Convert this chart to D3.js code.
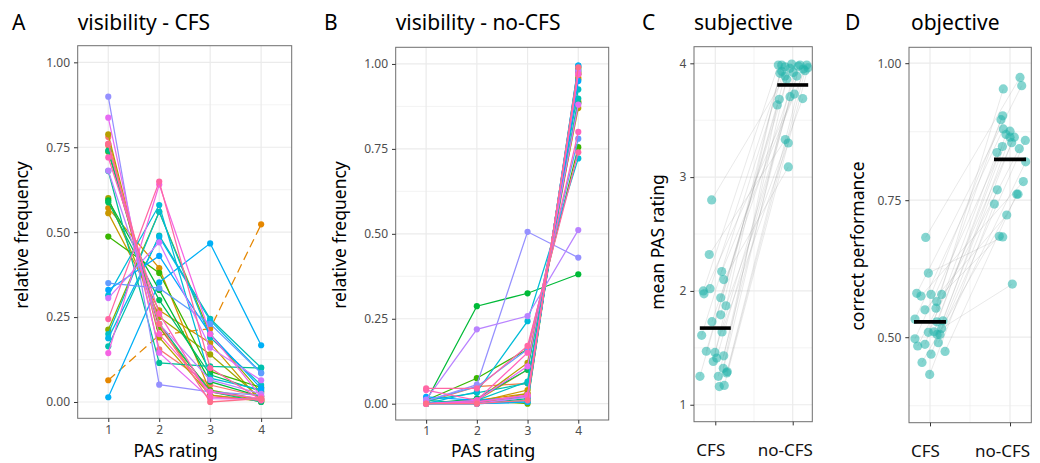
<!DOCTYPE html>
<html><head><meta charset="utf-8">
<script src="https://cdn.jsdelivr.net/npm/d3@7"></script>
<style>
html,body{margin:0;padding:0;background:#fff;}
svg{display:block;font-family:"Noto Sans",sans-serif;}
</style></head><body>
<svg id="chart" width="1040" height="463"></svg>
<script>
// ---------------- DATA ----------------
const pasLevels = [1, 2, 3, 4];
const pasTickLabels = ["1", "2", "3", "4"];
const freqTicks = [0, 0.25, 0.5, 0.75, 1];
const freqTickLabels = ["0.00", "0.25", "0.50", "0.75", "1.00"];
const conditions = ["CFS", "no-CFS"];
const pasMeanTicks = [1, 2, 3, 4];
const perfTicks = [0.5, 0.75, 1];
const perfTickLabels = ["0.50", "0.75", "1.00"];
const dashedParticipantA = 2;

// relative frequency of PAS 1..4 per participant, CFS condition
const freqCFS = [
  [0.780, 0.155, 0.050, 0.015],
  [0.755, 0.220, 0.020, 0.005],
  [0.064, 0.197, 0.216, 0.523],
  [0.571, 0.394, 0.030, 0.005],
  [0.556, 0.270, 0.174, 0.000],
  [0.788, 0.190, 0.020, 0.002],
  [0.600, 0.250, 0.140, 0.010],
  [0.213, 0.560, 0.200, 0.027],
  [0.737, 0.220, 0.035, 0.008],
  [0.487, 0.380, 0.090, 0.043],
  [0.594, 0.330, 0.060, 0.016],
  [0.588, 0.300, 0.080, 0.032],
  [0.740, 0.230, 0.030, 0.000],
  [0.680, 0.115, 0.105, 0.100],
  [0.164, 0.490, 0.245, 0.101],
  [0.200, 0.560, 0.190, 0.050],
  [0.314, 0.580, 0.070, 0.036],
  [0.188, 0.486, 0.240, 0.086],
  [0.014, 0.352, 0.467, 0.167],
  [0.330, 0.430, 0.200, 0.040],
  [0.350, 0.335, 0.230, 0.085],
  [0.899, 0.051, 0.030, 0.020],
  [0.681, 0.230, 0.065, 0.024],
  [0.306, 0.470, 0.160, 0.064],
  [0.837, 0.145, 0.010, 0.008],
  [0.144, 0.640, 0.200, 0.016],
  [0.760, 0.200, 0.030, 0.010],
  [0.720, 0.260, 0.015, 0.005],
  [0.244, 0.649, 0.100, 0.007],
  [0.760, 0.230, 0.000, 0.010]
];
// relative frequency of PAS 1..4 per participant, no-CFS condition
const freqNoCFS = [
  [0.000, 0.010, 0.020, 0.970],
  [0.005, 0.050, 0.060, 0.885],
  [0.000, 0.010, 0.030, 0.960],
  [0.000, 0.010, 0.100, 0.890],
  [0.000, 0.005, 0.040, 0.955],
  [0.000, 0.010, 0.120, 0.870],
  [0.000, 0.000, 0.030, 0.970],
  [0.000, 0.005, 0.020, 0.975],
  [0.000, 0.010, 0.000, 0.990],
  [0.010, 0.075, 0.160, 0.755],
  [0.007, 0.287, 0.325, 0.381],
  [0.000, 0.015, 0.100, 0.885],
  [0.000, 0.000, 0.015, 0.985],
  [0.010, 0.000, 0.010, 0.980],
  [0.010, 0.032, 0.060, 0.898],
  [0.000, 0.010, 0.065, 0.925],
  [0.000, 0.035, 0.243, 0.722],
  [0.000, 0.000, 0.005, 0.995],
  [0.000, 0.000, 0.005, 0.995],
  [0.020, 0.010, 0.020, 0.950],
  [0.010, 0.050, 0.160, 0.780],
  [0.008, 0.056, 0.506, 0.430],
  [0.012, 0.219, 0.258, 0.511],
  [0.000, 0.000, 0.020, 0.980],
  [0.000, 0.010, 0.110, 0.880],
  [0.000, 0.005, 0.025, 0.970],
  [0.000, 0.005, 0.025, 0.970],
  [0.040, 0.010, 0.150, 0.800],
  [0.045, 0.045, 0.170, 0.740],
  [0.000, 0.000, 0.010, 0.990]
];

// panel C: mean PAS rating per participant (and horizontal jitter in category units)
const meanPasCFS   = [2.80,2.32,2.00,1.975,2.02,2.17,2.10,1.94,1.87,1.79,1.73,1.64,1.61,1.47,1.46,1.41,1.43,1.38,1.32,1.28,1.29,1.25,1.25,1.16,1.17];
const meanPasNoCFS = [3.956,3.33,3.985,3.73,3.93,3.985,3.09,3.994,3.69,3.912,3.975,3.30,3.97,3.684,3.888,3.985,3.86,3.985,3.634,3.95,3.935,3.888,3.707,3.92,3.96];
const jitterPasCFS   = [-0.047,-0.078,-0.155,-0.146,-0.068,0.083,0.109,0.070,0.138,0.070,-0.043,0.087,-0.176,-0.116,-0.004,0.018,0.109,-0.026,0.103,0.147,0.155,-0.198,0.039,0.052,0.116];
const jitterPasNoCFS = [-0.035,-0.096,-0.186,0.021,-0.142,0.181,-0.057,-0.013,0.129,-0.164,0.072,-0.057,-0.099,-0.173,0.052,0.094,-0.078,-0.142,-0.199,0.137,0.159,-0.099,-0.035,0.008,0.198];

// panel D: proportion correct per participant
const perfCFS   = [0.682,0.617,0.580,0.575,0.578,0.578,0.565,0.553,0.533,0.528,0.530,0.516,0.509,0.505,0.505,0.497,0.484,0.487,0.490,0.469,0.474,0.454,0.432,0.550,0.510];
const perfNoCFS = [0.974,0.683,0.959,0.784,0.904,0.684,0.897,0.953,0.880,0.876,0.865,0.597,0.865,0.859,0.855,0.848,0.844,0.837,0.820,0.769,0.761,0.761,0.743,0.723,0.870];
const jitterPerfCFS   = [-0.054,-0.021,-0.166,-0.113,0.013,0.146,0.084,0.075,-0.188,0.084,0.163,0.146,-0.021,0.125,0.088,-0.188,-0.154,-0.063,0.104,0.013,0.188,-0.100,-0.004,-0.063,0.050];
const jitterPerfNoCFS = [0.125,-0.091,0.146,0.166,-0.091,-0.134,-0.113,-0.084,-0.084,0.000,0.000,0.029,0.054,0.191,0.021,-0.096,0.116,-0.163,0.196,-0.159,0.084,0.100,-0.196,-0.041,-0.050];

// ---------------- HELPERS ----------------
// ggplot2 default hue palette (polar CIE-LUV, c=100, l=65)
function hclLuv(h, c, l) {
  const hr = h * Math.PI / 180, u = c * Math.cos(hr), v = c * Math.sin(hr);
  const Xn = 95.047, Yn = 100, Zn = 108.883;
  const den = Xn + 15 * Yn + 3 * Zn, un = 4 * Xn / den, vn = 9 * Yn / den;
  const Y = Yn * Math.pow((l + 16) / 116, 3);
  const up = u / (13 * l) + un, vp = v / (13 * l) + vn;
  const X = Y * 9 * up / (4 * vp);
  const Z = Y * (12 - 3 * up - 20 * vp) / (4 * vp);
  const x = X / 100, y = Y / 100, z = Z / 100;
  let rgb = [3.240479 * x - 1.537150 * y - 0.498535 * z,
             -0.969256 * x + 1.875992 * y + 0.041556 * z,
             0.055648 * x - 0.204043 * y + 1.057311 * z];
  rgb = rgb.map(t => { t = t <= 0.0031308 ? 12.92 * t : 1.055 * Math.pow(t, 1 / 2.4) - 0.055; return Math.round(255 * Math.max(0, Math.min(1, t))); });
  return d3.rgb(rgb[0], rgb[1], rgb[2]).formatHex();
}
const nP = freqCFS.length;
const huePalette = d3.range(nP).map(i => hclLuv(15 + 360 * i / nP, 100, 65));

const svg = d3.select("#chart");
const GRID = "#ebebeb", BORDER = "#6e6e6e", TICKTXT = "#4d4d4d";

function frame(p, x, y, xMajor, xMinor, yMajor, yMinor) {
  const g = svg.append("g");
  g.selectAll(".ymin").data(yMinor).join("line")
    .attr("x1", p.left).attr("x2", p.right).attr("y1", d => y(d)).attr("y2", d => y(d))
    .attr("stroke", GRID).attr("stroke-width", 0.6);
  g.selectAll(".xmin").data(xMinor).join("line")
    .attr("y1", p.top).attr("y2", p.bottom).attr("x1", d => x(d)).attr("x2", d => x(d))
    .attr("stroke", GRID).attr("stroke-width", 0.6);
  g.selectAll(".ymaj").data(yMajor).join("line")
    .attr("x1", p.left).attr("x2", p.right).attr("y1", d => y(d)).attr("y2", d => y(d))
    .attr("stroke", GRID).attr("stroke-width", 1.2);
  g.selectAll(".xmaj").data(xMajor).join("line")
    .attr("y1", p.top).attr("y2", p.bottom).attr("x1", d => x(d)).attr("x2", d => x(d))
    .attr("stroke", GRID).attr("stroke-width", 1.2);
  return g;
}
function border(p) {
  svg.append("rect").attr("x", p.left).attr("y", p.top)
    .attr("width", p.right - p.left).attr("height", p.bottom - p.top)
    .attr("fill", "none").attr("stroke", BORDER).attr("stroke-width", 1);
}
function yAxis(p, y, ticks, labels) {
  const ax = d3.axisLeft(y).tickValues(ticks).tickSize(3.7).tickPadding(4)
    .tickFormat((d, i) => labels[i]);
  const g = svg.append("g").attr("transform", `translate(${p.left},0)`).call(ax);
  g.select(".domain").remove();
  g.selectAll(".tick line").attr("stroke", "#333").attr("stroke-width", 1);
  g.selectAll(".tick text").attr("fill", TICKTXT).style("font-size", "12px")
    .style("font-family", "Noto Sans");
}
function xAxis(p, x, ticks, labels, size, color, pad, dxs) {
  const ax = d3.axisBottom(x).tickValues(ticks).tickSize(3.7).tickPadding(pad)
    .tickFormat((d, i) => labels[i]);
  const g = svg.append("g").attr("transform", `translate(0,${p.bottom})`).call(ax);
  g.select(".domain").remove();
  g.selectAll(".tick line").attr("stroke", "#333").attr("stroke-width", 1);
  g.selectAll(".tick text").attr("fill", color).style("font-size", size)
    .style("font-family", "Noto Sans").attr("dx", (d, i) => dxs ? dxs[i] : 0);
}
function titles(letter, lx, title, tx) {
  svg.append("text").attr("x", lx).attr("y", 30).text(letter)
    .style("font-size", "21px").attr("fill", "#000");
  svg.append("text").attr("x", tx).attr("y", 30).text(title)
    .style("font-size", "21px").attr("fill", "#000");
}
function yTitle(txt, cx, cy) {
  svg.append("text").attr("transform", `translate(${cx},${cy}) rotate(-90)`)
    .attr("text-anchor", "middle").attr("dy", "0.35em").text(txt)
    .style("font-size", "17.5px").attr("fill", "#000");
}
function xTitle(txt, cx, y) {
  svg.append("text").attr("x", cx).attr("y", y).attr("text-anchor", "middle").text(txt)
    .style("font-size", "17.5px").attr("fill", "#000");
}

// ---------------- PANELS A & B ----------------
function freqPanel(p, data, letter, lx, title, dashedIdx) {
  const x = d3.scaleLinear().domain([0.4, 4.6]).range([p.left, p.right]);
  const y = d3.scaleLinear().domain([-0.048, 1.049]).range([p.bottom, p.top]);
  frame(p, x, y, pasLevels, [], freqTicks, [0.125, 0.375, 0.625, 0.875]);
  const line = d3.line().x((d, i) => x(pasLevels[i])).y(d => y(d));
  const g = svg.append("g");
  data.forEach((row, k) => {
    g.append("path").datum(row).attr("d", line).attr("fill", "none")
      .attr("stroke", huePalette[k]).attr("stroke-width", 1.25)
      .attr("stroke-dasharray", k === dashedIdx ? "9,5" : null);
    g.selectAll(null).data(row).join("circle")
      .attr("cx", (d, i) => x(pasLevels[i])).attr("cy", d => y(d)).attr("r", 3.1)
      .attr("fill", huePalette[k]);
  });
  border(p);
  yAxis(p, y, freqTicks, freqTickLabels);
  xAxis(p, x, pasLevels, pasTickLabels, "12px", TICKTXT, 3, null);
  titles(letter, lx, title, p.left);
  yTitle("relative frequency", p.left - 56, 235);
  xTitle("PAS rating", (p.left + p.right) / 2 - 9, 457);
}
const pA = {left: 77.7, right: 291.7, top: 45.7, bottom: 418.3};
const pB = {left: 395.7, right: 608.7, top: 47.3, bottom: 420};
freqPanel(pA, freqCFS, "A", 12, "visibility - CFS", dashedParticipantA);
freqPanel(pB, freqNoCFS, "B", 324, "visibility - no-CFS", -1);

// ---------------- PANELS C & D ----------------
function pairedPanel(p, xDom, yDom, a, b, ja, jb, yTicks, yLabels, yMinor, letter, lx, title, tx, ylab, ylabX, ylabY) {
  const x = d3.scaleLinear().domain(xDom).range([p.left, p.right]);
  const y = d3.scaleLinear().domain(yDom).range([p.bottom, p.top]);
  frame(p, x, y, [1, 2], [1.5], yTicks, yMinor);
  const g = svg.append("g");
  g.selectAll(".pair").data(a).join("line")
    .attr("x1", (d, i) => x(1 + ja[i])).attr("y1", d => y(d))
    .attr("x2", (d, i) => x(2 + jb[i])).attr("y2", (d, i) => y(b[i]))
    .attr("stroke", "#9a9a9a").attr("stroke-opacity", 0.4).attr("stroke-width", 0.55);
  const pts = a.map((d, i) => [1 + ja[i], d]).concat(b.map((d, i) => [2 + jb[i], d]));
  g.selectAll(".pt").data(pts).join("circle")
    .attr("cx", d => x(d[0])).attr("cy", d => y(d[1])).attr("r", 4.6)
    .attr("fill", "#20B2AA").attr("fill-opacity", 0.55);
  const means = [d3.mean(a), d3.mean(b)];
  g.selectAll(".mean").data(means).join("line")
    .attr("x1", (d, i) => x(i + 1 - 0.2)).attr("x2", (d, i) => x(i + 1 + 0.2))
    .attr("y1", d => y(d)).attr("y2", d => y(d))
    .attr("stroke", "#000").attr("stroke-width", 3.6);
  border(p);
  yAxis(p, y, yTicks, yLabels);
  xAxis(p, x, [1, 2], conditions, "17px", "#111", 19, [-5, -8]);
  titles(letter, lx, title, tx);
  yTitle(ylab, ylabX, ylabY);
}
const pC = {left: 694, right: 812.3, top: 46.7, bottom: 421.7};
const pD = {left: 909, right: 1031.3, top: 47.3, bottom: 422.7};
pairedPanel(pC, [0.725, 2.253], [0.851, 4.146], meanPasCFS, meanPasNoCFS, jitterPasCFS, jitterPasNoCFS,
  pasMeanTicks, pasMeanTicks.map(String), [1.5, 2.5, 3.5], "C", 642, "subjective", 694, "mean PAS rating", 658, 242);
pairedPanel(pD, [0.7375, 2.266], [0.344, 1.029], perfCFS, perfNoCFS, jitterPerfCFS, jitterPerfNoCFS,
  perfTicks, perfTickLabels, [0.375, 0.625, 0.875], "D", 845, "objective", 911, "correct performance", 858, 246);
</script>
</body></html>
